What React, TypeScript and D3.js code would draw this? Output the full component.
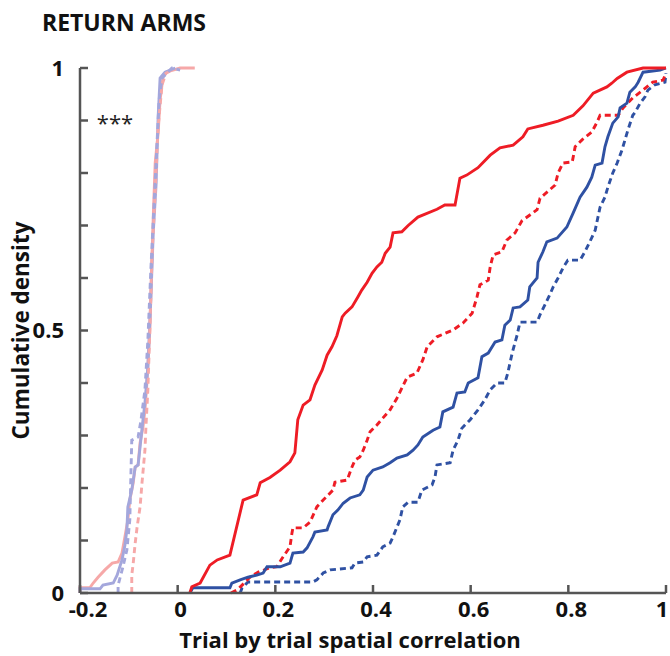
import React from "react";
import * as d3 from "d3";

type P = [number, number];

const xTicks = [-0.2, 0, 0.2, 0.4, 0.6, 0.8, 1];
const xTickLabels = ["-0.2", "0", "0.2", "0.4", "0.6", "0.8", "1"];
const yMinorTicks = [0, 0.1, 0.2, 0.3, 0.4, 0.5, 0.6, 0.7, 0.8, 0.9, 1];
const yTickLabels: [number, string][] = [[0, "0"], [0.5, "0.5"], [1, "1"]];

const redSolid: P[] = [
  [0.025, 0], [0.029, 0.012], [0.046, 0.019], [0.066, 0.053], [0.081, 0.063], [0.107, 0.072],
  [0.134, 0.177], [0.162, 0.187], [0.169, 0.21], [0.189, 0.22], [0.21, 0.234], [0.23, 0.25],
  [0.24, 0.267], [0.246, 0.33], [0.257, 0.358], [0.271, 0.368], [0.281, 0.396], [0.296, 0.425],
  [0.306, 0.453], [0.316, 0.469], [0.326, 0.49], [0.337, 0.526], [0.343, 0.533], [0.357, 0.545],
  [0.369, 0.564], [0.377, 0.577], [0.388, 0.592], [0.398, 0.609], [0.408, 0.621], [0.418, 0.63],
  [0.425, 0.647], [0.435, 0.659], [0.441, 0.686], [0.459, 0.688], [0.472, 0.7], [0.492, 0.716],
  [0.531, 0.731], [0.547, 0.739], [0.568, 0.739], [0.578, 0.79], [0.592, 0.796], [0.615, 0.81],
  [0.64, 0.834], [0.66, 0.848], [0.687, 0.853], [0.707, 0.869], [0.717, 0.884], [0.748, 0.891],
  [0.779, 0.899], [0.81, 0.91], [0.83, 0.928], [0.851, 0.952], [0.879, 0.964], [0.889, 0.971],
  [0.9, 0.98], [0.92, 0.992], [0.953, 1], [1.0, 1],
];

const redDashed: P[] = [
  [0.109, 0], [0.122, 0.006], [0.132, 0.015], [0.148, 0.03], [0.165, 0.04], [0.189, 0.048],
  [0.203, 0.05], [0.216, 0.069], [0.23, 0.088], [0.234, 0.114], [0.236, 0.124], [0.257, 0.124],
  [0.271, 0.135], [0.285, 0.164], [0.298, 0.177], [0.318, 0.196], [0.322, 0.211], [0.347, 0.215],
  [0.357, 0.24], [0.363, 0.253], [0.373, 0.259], [0.38, 0.272], [0.388, 0.291], [0.394, 0.307],
  [0.408, 0.32], [0.42, 0.333], [0.435, 0.349], [0.449, 0.371], [0.47, 0.411], [0.49, 0.419],
  [0.502, 0.444], [0.511, 0.469], [0.531, 0.488], [0.564, 0.501], [0.584, 0.514], [0.603, 0.533],
  [0.613, 0.564], [0.619, 0.587], [0.636, 0.596], [0.64, 0.621], [0.646, 0.644], [0.664, 0.65],
  [0.674, 0.672], [0.691, 0.686], [0.705, 0.709], [0.736, 0.73], [0.742, 0.752], [0.773, 0.777],
  [0.779, 0.8], [0.789, 0.819], [0.808, 0.821], [0.814, 0.85], [0.828, 0.863], [0.848, 0.878],
  [0.859, 0.897], [0.865, 0.91], [0.902, 0.91], [0.912, 0.924], [0.932, 0.943], [0.953, 0.958],
  [0.973, 0.973], [0.994, 0.977], [1.0, 0.99],
];

const blueSolid: P[] = [
  [0.025, 0], [0.031, 0.01], [0.107, 0.01], [0.111, 0.019], [0.128, 0.025], [0.144, 0.03],
  [0.162, 0.034], [0.175, 0.038], [0.183, 0.05], [0.21, 0.05], [0.23, 0.057], [0.236, 0.076],
  [0.257, 0.078], [0.265, 0.086], [0.277, 0.107], [0.281, 0.116], [0.306, 0.12], [0.308, 0.126],
  [0.318, 0.149], [0.328, 0.158], [0.339, 0.171], [0.353, 0.181], [0.373, 0.187], [0.38, 0.196],
  [0.388, 0.221], [0.4, 0.234], [0.42, 0.24], [0.435, 0.248], [0.449, 0.257], [0.47, 0.263],
  [0.482, 0.272], [0.492, 0.282], [0.502, 0.297], [0.523, 0.31], [0.537, 0.316], [0.543, 0.345],
  [0.564, 0.354], [0.572, 0.381], [0.588, 0.383], [0.595, 0.4], [0.615, 0.41], [0.623, 0.45],
  [0.636, 0.457], [0.65, 0.478], [0.664, 0.482], [0.67, 0.51], [0.681, 0.52], [0.687, 0.543],
  [0.701, 0.545], [0.717, 0.558], [0.721, 0.583], [0.736, 0.6], [0.738, 0.63], [0.748, 0.65],
  [0.756, 0.669], [0.777, 0.676], [0.797, 0.697], [0.81, 0.724], [0.824, 0.754], [0.838, 0.773],
  [0.848, 0.792], [0.855, 0.815], [0.869, 0.819], [0.875, 0.85], [0.881, 0.869], [0.891, 0.895],
  [0.902, 0.907], [0.906, 0.924], [0.92, 0.933], [0.926, 0.954], [0.937, 0.964], [0.943, 0.973],
  [0.953, 0.992], [0.988, 0.996], [1.0, 1.0],
];

const blueDashed: P[] = [
  [0.128, 0], [0.132, 0.01], [0.144, 0.021], [0.277, 0.021], [0.285, 0.025], [0.298, 0.038],
  [0.312, 0.044], [0.357, 0.048], [0.363, 0.057], [0.38, 0.059], [0.388, 0.069], [0.408, 0.072],
  [0.42, 0.088], [0.435, 0.095], [0.441, 0.107], [0.455, 0.139], [0.461, 0.164], [0.472, 0.173],
  [0.492, 0.173], [0.5, 0.196], [0.521, 0.206], [0.527, 0.221], [0.531, 0.244], [0.558, 0.248],
  [0.564, 0.272], [0.574, 0.291], [0.582, 0.314], [0.599, 0.33], [0.615, 0.349], [0.629, 0.368],
  [0.64, 0.387], [0.654, 0.4], [0.67, 0.4], [0.676, 0.419], [0.685, 0.457], [0.695, 0.491],
  [0.701, 0.516], [0.736, 0.516], [0.742, 0.53], [0.752, 0.549], [0.762, 0.568], [0.769, 0.583],
  [0.779, 0.6], [0.789, 0.619], [0.799, 0.634], [0.824, 0.634], [0.834, 0.65], [0.844, 0.669],
  [0.855, 0.691], [0.865, 0.735], [0.875, 0.754], [0.881, 0.773], [0.891, 0.8], [0.9, 0.819],
  [0.91, 0.844], [0.916, 0.863], [0.922, 0.882], [0.932, 0.91], [0.937, 0.916], [0.947, 0.933],
  [0.957, 0.945], [0.963, 0.958], [0.977, 0.968], [0.998, 0.973], [1.0, 0.99],
];

const pinkSolid: P[] = [
  [-0.2, 0], [-0.2, 0.01], [-0.18, 0.01], [-0.173, 0.019], [-0.163, 0.03], [-0.149, 0.044],
  [-0.134, 0.057], [-0.122, 0.059], [-0.114, 0.076], [-0.108, 0.107], [-0.102, 0.139],
  [-0.098, 0.177], [-0.091, 0.21], [-0.087, 0.24], [-0.081, 0.244], [-0.077, 0.286],
  [-0.071, 0.316], [-0.067, 0.349], [-0.063, 0.4], [-0.057, 0.5], [-0.05, 0.716], [-0.046, 0.82],
  [-0.04, 0.876], [-0.036, 0.939], [-0.03, 0.983], [-0.024, 0.992], [0.005, 1.0], [0.035, 1.0],
];

const lavSolid: P[] = [
  [-0.2, 0], [-0.2, 0.008], [-0.159, 0.008], [-0.153, 0.015], [-0.132, 0.019], [-0.124, 0.034],
  [-0.114, 0.063], [-0.108, 0.091], [-0.104, 0.12], [-0.102, 0.164], [-0.094, 0.196],
  [-0.087, 0.24], [-0.081, 0.244], [-0.077, 0.278], [-0.071, 0.33], [-0.067, 0.362],
  [-0.061, 0.43], [-0.055, 0.558], [-0.05, 0.686], [-0.044, 0.781], [-0.04, 0.907],
  [-0.036, 0.981], [-0.026, 0.992], [-0.005, 1.0],
];

const lavDashed: P[] = [
  [-0.122, 0], [-0.122, 0.015], [-0.118, 0.029], [-0.112, 0.05], [-0.104, 0.082], [-0.098, 0.139],
  [-0.096, 0.215], [-0.094, 0.291], [-0.081, 0.297], [-0.075, 0.33], [-0.067, 0.387],
  [-0.061, 0.482], [-0.055, 0.615], [-0.048, 0.749], [-0.042, 0.863], [-0.038, 0.939],
  [-0.032, 0.981], [-0.02, 0.992], [-0.012, 1.0], [0.005, 0.996],
];

const pinkDashed: P[] = [
  [-0.094, 0], [-0.094, 0.034], [-0.091, 0.057], [-0.087, 0.095], [-0.083, 0.126], [-0.077, 0.164],
  [-0.073, 0.21], [-0.067, 0.272], [-0.065, 0.316], [-0.061, 0.387], [-0.057, 0.5],
  [-0.053, 0.634], [-0.046, 0.762], [-0.04, 0.888], [-0.032, 0.968], [-0.024, 0.99], [-0.012, 0.996],
];

const series = [
  { data: pinkSolid, color: "#f6a8a8", dash: "" },
  { data: lavSolid, color: "#a4a7dc", dash: "" },
  { data: pinkDashed, color: "#f6a8a8", dash: "6 4" },
  { data: lavDashed, color: "#a4a7dc", dash: "6 4" },
  { data: blueDashed, color: "#2f51a3", dash: "6 4" },
  { data: redDashed, color: "#ee1c25", dash: "6 4" },
  { data: blueSolid, color: "#2f51a3", dash: "" },
  { data: redSolid, color: "#ee1c25", dash: "" },
];

const FONT = "'Open Sans', 'Noto Sans', sans-serif";

export default function App() {
  const W = 670, H = 656;
  const x = d3.scaleLinear().domain([-0.2, 1]).range([80, 666]);
  const y = d3.scaleLinear().domain([0, 1]).range([593, 68]);
  const line = d3.line<P>().x((d) => x(d[0])).y((d) => y(d[1]));
  const axisColor = "#555";
  return (
    <svg width={W} height={H} style={{ position: "absolute", left: 0, top: 0, background: "#fff" }}>
      <rect width={W} height={H} fill="#fff" />
      {series.map((s, i) => (
        <path key={i} d={line(s.data) || ""} fill="none" stroke={s.color} strokeWidth={2.9}
          strokeDasharray={s.dash || undefined} strokeLinejoin="miter" />
      ))}
      {/* axes */}
      <line x1={x(-0.2)} x2={x(-0.2)} y1={y(0)} y2={y(1)} stroke={axisColor} strokeWidth={2.5} />
      <line x1={x(-0.2)} x2={x(1)} y1={y(0)} y2={y(0)} stroke={axisColor} strokeWidth={2.5} />
      {yMinorTicks.map((t) => (
        <line key={"yt" + t} x1={x(-0.2)} x2={x(-0.2) + 8} y1={y(t)} y2={y(t)} stroke={axisColor} strokeWidth={2.5} />
      ))}
      {xTicks.map((t) => (
        <line key={"xt" + t} x1={x(t)} x2={x(t)} y1={y(0)} y2={y(0) - 8} stroke={axisColor} strokeWidth={2.5} />
      ))}
      {yTickLabels.map(([v, s]) => (
        <text key={"yl" + v} x={64} y={y(v)} dy="0.36em" textAnchor="end" fontFamily={FONT}
          fontWeight={700} fontSize={22} fill="#111">{s}</text>
      ))}
      {xTicks.map((t, i) => (
        <text key={"xl" + t} x={i === 0 ? 88 : i === xTicks.length - 1 ? 662 : x(t) + 3} y={617} textAnchor="middle" fontFamily={FONT}
          fontWeight={700} fontSize={22} fill="#111">{xTickLabels[i]}</text>
      ))}
      <text x={124} y={31} textAnchor="middle" fontFamily={FONT} fontWeight={700} fontSize={23} fill="#111">RETURN ARMS</text>
      <text x={115} y={131} textAnchor="middle" fontFamily={FONT} fontWeight={400} fontSize={22} fill="#222">***</text>
      <text transform={`translate(29,${y(0.5)}) rotate(-90)`} textAnchor="middle" fontFamily={FONT}
        fontWeight={700} fontSize={22.5} fill="#111">Cumulative density</text>
      <text x={350} y={648} textAnchor="middle" fontFamily={FONT} fontWeight={700} fontSize={22} fill="#111">Trial by trial spatial correlation</text>
    </svg>
  );
}
